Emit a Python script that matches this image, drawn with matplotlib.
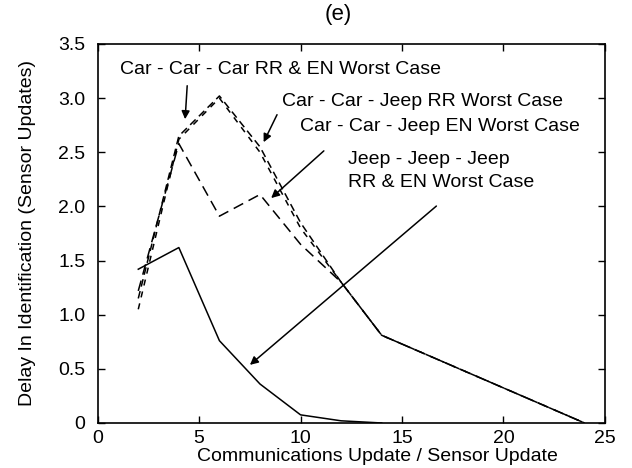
import matplotlib
matplotlib.use("Agg")
import matplotlib.pyplot as plt

plt.rcParams['font.family'] = ['Liberation Sans', 'DejaVu Sans']

# data
x_car = [2, 4, 6, 8, 10, 12, 14, 24]
car_car_car = [1.15, 2.65, 3.02, 2.55, 1.85, 1.30, 0.81, 0.0]
x_rr = [2, 4, 6, 8, 10, 12, 14, 24]
car_jeep_rr = [1.05, 2.62, 3.00, 2.50, 1.80, 1.30, 0.81, 0.0]
x_en = [2, 4, 6, 8, 10, 12, 14, 24]
car_jeep_en = [1.22, 2.58, 1.91, 2.11, 1.65, 1.30, 0.81, 0.0]
x_jeep = [2, 4, 6, 8, 10, 12, 14]
jeep = [1.42, 1.62, 0.76, 0.36, 0.075, 0.02, 0.0]

x_ticks = [0, 5, 10, 15, 20, 25]
y_ticks = [0, 0.5, 1.0, 1.5, 2.0, 2.5, 3.0, 3.5]
y_tick_labels = ['0', '0.5', '1.0', '1.5', '2.0', '2.5', '3.0', '3.5']

fig = plt.figure(figsize=(6.32, 4.68), dpi=100)
ax = fig.add_axes([0.1546, 0.0962, 0.957 - 0.1546, 0.906 - 0.0962])

lw = 1.1
ax.plot(x_car, car_car_car, color='black', lw=lw, dashes=(5, 3))
ax.plot(x_rr, car_jeep_rr, color='black', lw=lw, dashes=(4, 4))
ax.plot(x_en, car_jeep_en, color='black', lw=lw, dashes=(7, 4))
ax.plot(x_jeep, jeep, color='black', lw=lw)

ax.set_xlim(0, 25)
ax.set_ylim(0, 3.5)
ax.set_xticks(x_ticks)
ax.set_yticks(y_ticks)
ax.set_yticklabels(y_tick_labels)
ax.tick_params(direction='in', length=5, width=1, labelsize=14, top=True, right=True)
ax.tick_params(axis='y', pad=9)
ax.tick_params(axis='x', pad=5)
for s in ax.spines.values():
    s.set_linewidth(1.2)

ax.set_xlabel('Communications Update / Sensor Update', fontsize=14)
ax.xaxis.set_label_coords(0.5525, -0.066)
ax.set_ylabel('Delay In Identification (Sensor Updates)', fontsize=14)
ax.yaxis.set_label_coords(-0.122, 0.5)
ax.text(0.474, 1.0765, '(e)', fontsize=16, ha='center', va='center', transform=ax.transAxes)

fs = 14
arrow = dict(arrowstyle='-|>', color='black', lw=1.1, mutation_scale=12)
ax.text(1.1, 3.26, 'Car - Car - Car RR & EN Worst Case', fontsize=fs, va='center')
ax.annotate('', xy=(4.3, 2.78), xytext=(4.42, 3.14), arrowprops=arrow)
ax.text(9.1, 2.97, 'Car - Car - Jeep RR Worst Case', fontsize=fs, va='center')
ax.annotate('', xy=(8.12, 2.57), xytext=(8.9, 2.87), arrowprops=arrow)
ax.text(9.95, 2.74, 'Car - Car - Jeep EN Worst Case', fontsize=fs, va='center')
ax.annotate('', xy=(8.45, 2.06), xytext=(11.25, 2.53), arrowprops=arrow)
ax.text(12.35, 2.43, 'Jeep - Jeep - Jeep', fontsize=fs, va='center')
ax.text(12.35, 2.22, 'RR & EN Worst Case', fontsize=fs, va='center')
ax.annotate('', xy=(7.4, 0.52), xytext=(16.8, 2.02), arrowprops=arrow)

fig.savefig('out.png', dpi=100)
